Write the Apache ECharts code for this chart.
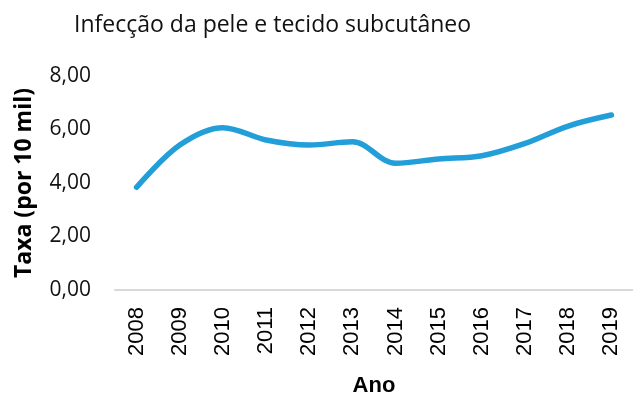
<!DOCTYPE html>
<html>
<head>
<meta charset="utf-8">
<script src="https://cdn.jsdelivr.net/npm/echarts@6/dist/echarts.min.js"></script>
<style>
  html, body { margin: 0; padding: 0; background: #fff; }
  #chart { width: 633px; height: 396px; }
</style>
</head>
<body>
<div id="chart"></div>
<script>
// Taxa de internação por infecção da pele e tecido subcutâneo (por 10 mil)
const years = ['2008', '2009', '2010', '2011', '2012', '2013', '2014', '2015', '2016', '2017', '2018', '2019'];
const rates = [3.84, 5.42, 6.07, 5.61, 5.42, 5.54, 4.74, 4.90, 5.02, 5.48, 6.13, 6.54];
const yTicks = { min: 0, max: 8, interval: 2 };

const chart = echarts.init(document.getElementById('chart'));
chart.setOption({
  animation: false,
  title: {
    text: 'Infecção da pele e tecido subcutâneo',
    left: 69,
    top: 9,
    textStyle: { fontFamily: 'Open Sans', fontSize: 23, fontWeight: 'normal', color: '#111' }
  },
  grid: { left: 115, right: 0, top: 76, bottom: 106, containLabel: false, outerBoundsMode: 'none' },
  xAxis: {
    type: 'category',
    data: years,
    boundaryGap: true,
    name: 'Ano',
    nameLocation: 'middle',
    nameGap: 85,
    nameTextStyle: { fontFamily: 'Liberation Sans', fontSize: 22, fontWeight: 'bold', color: '#000' },
    axisLine: { lineStyle: { color: '#d9d9d9', width: 2 } },
    axisTick: { show: false },
    axisLabel: { rotate: 90, margin: 17, fontFamily: 'Liberation Sans', fontSize: 22, color: '#000' }
  },
  yAxis: {
    type: 'value',
    min: yTicks.min,
    max: yTicks.max,
    interval: yTicks.interval,
    name: 'Taxa (por 10 mil)',
    nameLocation: 'middle',
    nameGap: 79,
    nameRotate: 90,
    nameTextStyle: { fontFamily: 'Open Sans', fontSize: 23, fontWeight: 'bold', color: '#000' },
    axisLine: { show: false },
    axisTick: { show: false },
    splitLine: { show: false },
    axisLabel: {
      margin: 24,
      fontFamily: 'Open Sans', fontSize: 21, color: '#111',
      formatter: v => v.toFixed(2).replace('.', ',')
    }
  },
  series: [{
    type: 'line',
    data: rates,
    smooth: 0.35,
    symbol: 'none',
    lineStyle: { color: '#229fd8', width: 5.5, cap: 'round' }
  }]
});
</script>
</body>
</html>
